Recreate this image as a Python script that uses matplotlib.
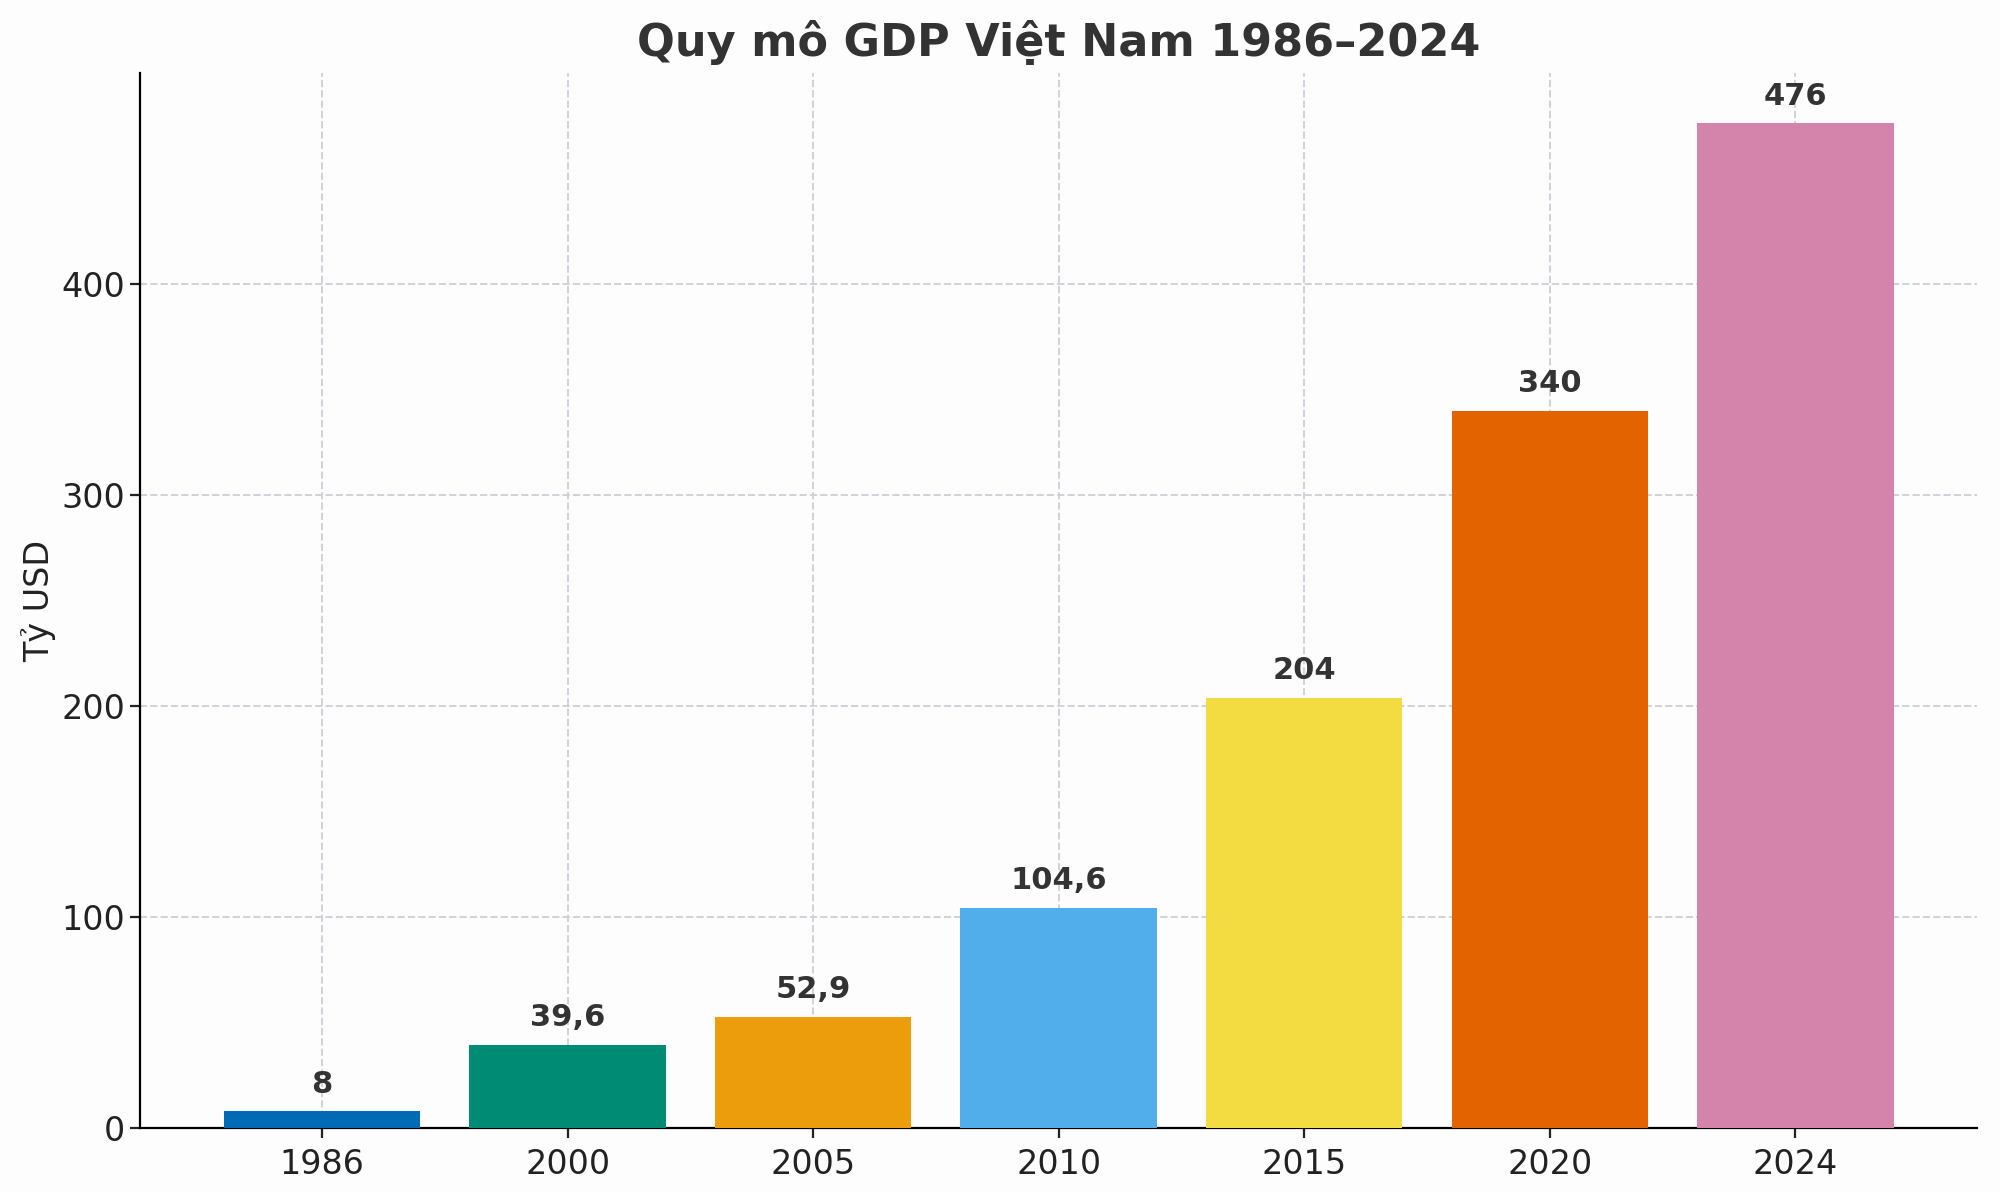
import matplotlib.pyplot as plt

# GDP data (billion USD)
years = ['1986', '2000', '2005', '2010', '2015', '2020', '2024']
gdp = [8, 39.6, 52.9, 104.6, 204, 340, 476]
labels = ['8', '39,6', '52,9', '104,6', '204', '340', '476']
colors = ['#006BB5', '#008C74', '#EC9D0B', '#52AEEA', '#F3DC41', '#E36300', '#D484AA']

plt.rcParams['font.family'] = ['DejaVu Sans']

fig, ax = plt.subplots(figsize=(10, 5.96), dpi=200, facecolor='#fefdfe')
ax.set_facecolor('#fefdfe')
fig.subplots_adjust(left=0.0702, right=0.9885, top=0.939, bottom=0.0534)

x = range(len(years))
ax.bar(x, gdp, width=0.8, color=colors, zorder=3)

for xi, v, lab in zip(x, gdp, labels):
    ax.text(xi, v + 6, lab, ha='center', va='bottom', fontsize=11,
            fontweight='bold', color='#333333', zorder=4)

ax.set_xticks(list(x))
ax.set_xticklabels(years)
ax.set_yticks([0, 100, 200, 300, 400])
ax.set_ylim(0, 500)
ax.tick_params(labelsize=12, colors='#222222')
ax.tick_params(axis='y', pad=2)
ax.set_ylabel('Tỷ USD', fontsize=12, color='#222222', labelpad=2)
ax.set_title('Quy mô GDP Việt Nam 1986–2024', fontsize=16, fontweight='bold',
             color='#333333', pad=6)

ax.spines['top'].set_visible(False)
ax.spines['right'].set_visible(False)
ax.grid(True, linestyle='--', color='#d2d0d8', linewidth=0.7, zorder=0)

fig.savefig('out.png')
